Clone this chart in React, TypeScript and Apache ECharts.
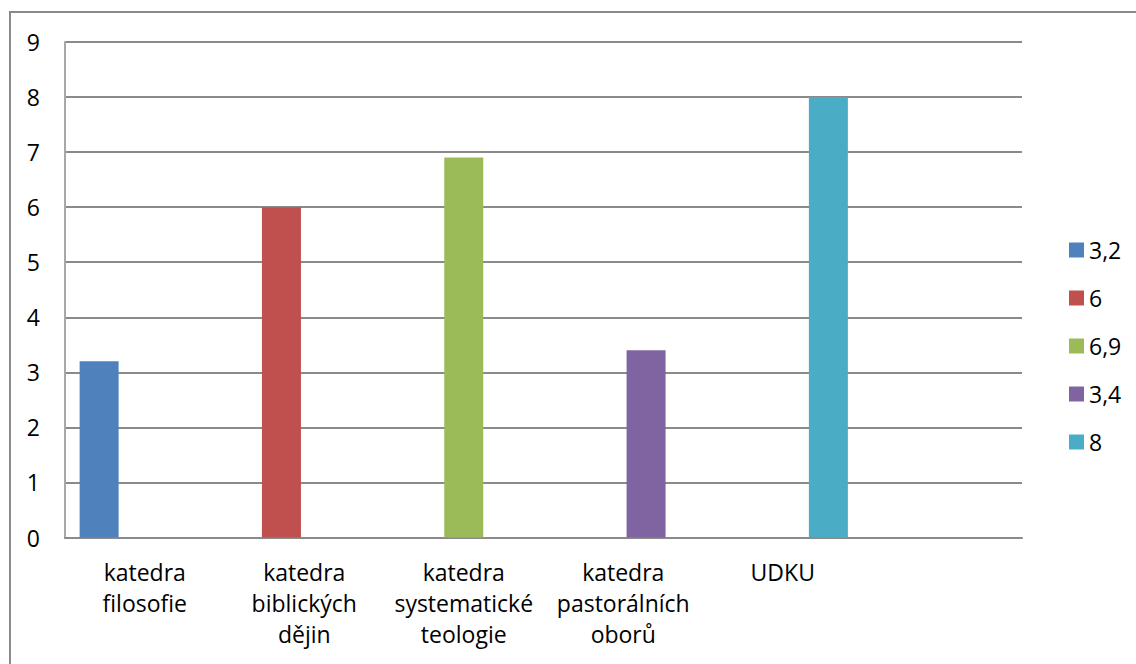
import React, { useEffect, useRef } from "react";
import * as echarts from "echarts";

const categories = [
  "katedra filosofie",
  "katedra biblických dějin",
  "katedra systematické teologie",
  "katedra pastorálních oborů",
  "UDKU",
  "",
];
const seriesNames = ["3,2", "6", "6,9", "3,4", "8"];
const seriesValues = [3.2, 6, 6.9, 3.4, 8];
const colors = ["#4F81BD", "#C0504D", "#9BBB59", "#8064A2", "#4BACC6"];
const yTicks = { min: 0, max: 9, interval: 1 };

const FONT = "Open Sans";
const FS = 23;

export default function App() {
  const ref = useRef<HTMLDivElement>(null);
  useEffect(() => {
    if (!ref.current) return;
    const chart = echarts.init(ref.current, undefined, { renderer: "svg" });
    chart.setOption({
      animation: false,
      backgroundColor: "#ffffff",
      textStyle: { fontFamily: FONT },
      graphic: [
        {
          type: "rect",
          shape: { x: 10, y: 12, width: 2000, height: 2000 },
          style: { fill: "none", stroke: "#8a8a8a", lineWidth: 2 },
          silent: true,
        },
      ],
      grid: { left: 65, right: 114, top: 42, bottom: 126.5, containLabel: false },
      legend: {
        orient: "vertical",
        left: 1064,
        top: 233,
        itemWidth: 15,
        itemHeight: 15,
        itemGap: 24,
        icon: "rect",
        data: seriesNames,
        textStyle: { fontFamily: FONT, fontSize: FS, color: "#000", lineHeight: 24 },
      },
      xAxis: {
        type: "category",
        data: categories,
        axisLine: { show: true, lineStyle: { color: "#8a8a8a", width: 2 } },
        axisTick: { show: false },
        axisLabel: {
          interval: 0,
          margin: 19,
          color: "#000",
          fontFamily: FONT,
          fontSize: FS,
          lineHeight: 31,
          formatter: (v: string) => v.split(" ").join("\n"),
        },
      },
      yAxis: {
        type: "value",
        min: yTicks.min,
        max: yTicks.max,
        interval: yTicks.interval,
        axisLine: { show: true, lineStyle: { color: "#a8a8a8", width: 2 } },
        axisTick: { show: false },
        axisLabel: { margin: 25, color: "#000", fontFamily: FONT, fontSize: FS },
        splitLine: { lineStyle: { color: "#8a8a8a", width: 2 } },
      },
      series: seriesNames.map((name, i) => ({
        name,
        type: "bar",
        barWidth: 39,
        barGap: "-41.5%",
        itemStyle: { color: colors[i] },
        data: categories.map((_, j) => (j === i ? seriesValues[i] : null)),
      })),
    });
    return () => chart.dispose();
  }, []);
  return (
    <div
      ref={ref}
      style={{ position: "fixed", left: 0, top: 0, width: 1136, height: 664 }}
    />
  );
}
